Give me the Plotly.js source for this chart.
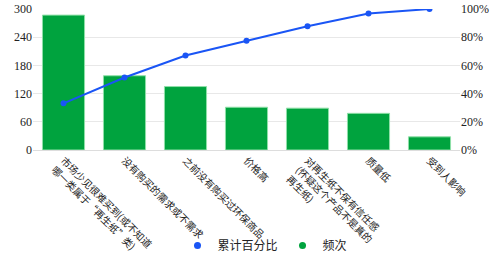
<!DOCTYPE html>
<html><head><meta charset="utf-8">
<script src="https://cdn.plot.ly/plotly-3.0.1.min.js"></script>
<style>
html,body{margin:0;padding:0;background:#fff}#c{width:500px;height:260px}
#c .ytick text, #c .y2tick text{font-family:'Liberation Serif','Times New Roman',serif !important}
</style>
</head><body><div id="c"></div>
<script>
var categories = [
  '市场少见很难买到(或不知道<br>哪一类属于“再生纸”类)',
  '没有购买的需求或不需求',
  '之前没有购买过环保商品',
  '价格高',
  '对再生纸不保有信任感<br>(怀疑这个产品不是真的<br>再生纸)',
  '质量低',
  '受到人影响'
];
var frequency = [287, 158, 135, 91, 89, 78, 28];
var cumulativePct = [33.1, 51.4, 67.0, 77.5, 87.8, 96.8, 100];
var leftTicks = [0, 60, 120, 180, 240, 300];
var rightTicks = [0, 20, 40, 60, 80, 100];
var rightTickText = ['0%', '20%', '40%', '60%', '80%', '100%'];

var serif = 'Liberation Serif';
var cjk = 'Noto Sans CJK SC';
var blue = '#1a55f5', green = '#00a33e';
var traces = [
  {type:'scatter', mode:'lines+markers', name:'累计百分比', x:categories, y:cumulativePct, yaxis:'y2',
   line:{color:blue, width:2}, marker:{color:blue, size:6}, showlegend:false},
  {type:'bar', name:'频次', x:categories, y:frequency, showlegend:false,
   marker:{color:green, line:{color:'#8fe0a8', width:1}}},
  {type:'scatter', mode:'markers', name:'累计百分比', x:[null], y:[null], marker:{color:blue, size:7}, showlegend:true},
  {type:'scatter', mode:'markers', name:'频次', x:[null], y:[null], marker:{color:green, size:7}, showlegend:true}
];
var layout = {
  width:500, height:260,
  margin:{l:33, r:40, t:9, b:110},
  paper_bgcolor:'#fff', plot_bgcolor:'#fff',
  font:{family:serif, size:12, color:'#222'},
  bargap:0.31,
  showlegend:true,
  legend:{orientation:'h', xref:'container', yref:'container', x:0.53, xanchor:'center', y:0.0, yanchor:'bottom',
          bgcolor:'rgba(0,0,0,0)', font:{size:12, family:cjk, color:'#222'}, traceorder:'normal', itemwidth:30, tracegroupgap:0},
  xaxis:{tickangle:45, tickfont:{size:10, family:cjk, color:'#222'}, showgrid:false, showline:true, linecolor:'#ddd', ticks:'', automargin:false},
  yaxis:{range:[0,300], tickvals:leftTicks, gridcolor:'#e8e8e8', zeroline:false, showline:false, ticks:'', tickfont:{size:12, family:serif, color:'#222'}, automargin:false},
  yaxis2:{range:[0,100], tickvals:rightTicks, ticktext:rightTickText, overlaying:'y', side:'right', showgrid:false, zeroline:false, ticks:'', tickfont:{size:12, family:serif, color:'#222'}, automargin:false}
};
Plotly.newPlot('c', traces, layout, {staticPlot:true, displayModeBar:false});
</script></body></html>
